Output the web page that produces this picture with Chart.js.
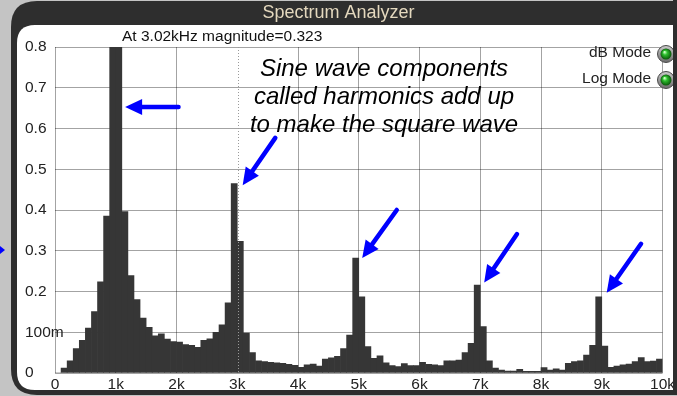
<!DOCTYPE html>
<html>
<head>
<meta charset="utf-8">
<title>Spectrum Analyzer</title>
<script src="https://cdn.jsdelivr.net/npm/chart.js@4.4.1/dist/chart.umd.min.js"></script>
<style>
  html, body { margin: 0; padding: 0; background: #c4c4c4; }
  canvas { display: block; }
</style>
</head>
<body>
<canvas id="spectrum" width="677" height="396"></canvas>
<script>
// 1. Data: 100 Hz bins from 0 to 10 kHz (bin centres)
const binCentersHz = [
  50, 150, 250, 350, 450, 550, 650, 750, 850, 950,
  1050, 1150, 1250, 1350, 1450, 1550, 1650, 1750, 1850, 1950,
  2050, 2150, 2250, 2350, 2450, 2550, 2650, 2750, 2850, 2950,
  3050, 3150, 3250, 3350, 3450, 3550, 3650, 3750, 3850, 3950,
  4050, 4150, 4250, 4350, 4450, 4550, 4650, 4750, 4850, 4950,
  5050, 5150, 5250, 5350, 5450, 5550, 5650, 5750, 5850, 5950,
  6050, 6150, 6250, 6350, 6450, 6550, 6650, 6750, 6850, 6950,
  7050, 7150, 7250, 7350, 7450, 7550, 7650, 7750, 7850, 7950,
  8050, 8150, 8250, 8350, 8450, 8550, 8650, 8750, 8850, 8950,
  9050, 9150, 9250, 9350, 9450, 9550, 9650, 9750, 9850, 9950,
];

const magnitude = [
  0, 0.012, 0.03, 0.06, 0.08, 0.11, 0.151, 0.224, 0.385, 0.95,
  0.95, 0.396, 0.239, 0.18, 0.135, 0.112, 0.091, 0.096, 0.083, 0.077,
  0.076, 0.07, 0.068, 0.063, 0.08, 0.084, 0.1, 0.118, 0.172, 0.465,
  0.323, 0.098, 0.05, 0.03, 0.028, 0.026, 0.025, 0.024, 0.021, 0.019,
  0.014, 0.02, 0.022, 0.017, 0.034, 0.037, 0.041, 0.06, 0.093, 0.282,
  0.187, 0.065, 0.036, 0.042, 0.025, 0.018, 0.016, 0.023, 0.018, 0.018,
  0.026, 0.021, 0.02, 0.018, 0.03, 0.03, 0.032, 0.05, 0.073, 0.216,
  0.114, 0.03, 0.012, 0.007, 0.005, 0.005, 0.009, 0.004, 0.004, 0.004,
  0.013, 0.007, 0.01, 0.007, 0.024, 0.028, 0.03, 0.044, 0.068, 0.187,
  0.066, 0.014, 0.017, 0.02, 0.022, 0.028, 0.038, 0.028, 0.029, 0.034,
];

const xTickLabels = ["0", "1k", "2k", "3k", "4k", "5k", "6k", "7k", "8k", "9k", "10k"];
const yTickLabels = ["0", "100m", "0.2", "0.3", "0.4", "0.5", "0.6", "0.7", "0.8"];

// cursor readout
const cursorHz = 3020;
const cursorText = "At 3.02kHz magnitude=0.323";

// annotation text + arrows (in data units: Hz, magnitude)
const noteLines = ["Sine wave components", "called harmonics add up", "to make the square wave"];
const arrows = [
  { tail: [2033, 0.653], tip: [1154, 0.653] },
  { tail: [3626, 0.577], tip: [3089, 0.461] },
  { tail: [5626, 0.4], tip: [5057, 0.282] },
  { tail: [7605, 0.341], tip: [7065, 0.222] },
  { tail: [9647, 0.317], tip: [9081, 0.197] },
];
const modeButtons = ["dB Mode", "Log Mode"];

// 2. Styles
const FONT = "'Liberation Sans', Arial, sans-serif";
const gridColor = "rgba(0,0,0,0.36)";
const frameColor = "#2e2e2e";

function roundRect(ctx, x, y, w, h, r) {
  ctx.beginPath();
  ctx.moveTo(x + r, y);
  ctx.lineTo(x + w - r, y);
  ctx.quadraticCurveTo(x + w, y, x + w, y + r);
  ctx.lineTo(x + w, y + h - r);
  ctx.quadraticCurveTo(x + w, y + h, x + w - r, y + h);
  ctx.lineTo(x + r, y + h);
  ctx.quadraticCurveTo(x, y + h, x, y + h - r);
  ctx.lineTo(x, y + r);
  ctx.quadraticCurveTo(x, y, x + r, y);
  ctx.closePath();
}

function drawArrow(ctx, x1, y1, x2, y2) {
  const ang = Math.atan2(y2 - y1, x2 - x1);
  const headLen = 17, headHalf = 8;
  const bx = x2 - Math.cos(ang) * headLen;
  const by = y2 - Math.sin(ang) * headLen;
  ctx.strokeStyle = "#0000ff";
  ctx.fillStyle = "#0000ff";
  ctx.lineWidth = 4.5;
  ctx.lineCap = "round";
  ctx.beginPath();
  ctx.moveTo(x1, y1);
  ctx.lineTo(bx + Math.cos(ang) * 2, by + Math.sin(ang) * 2);
  ctx.stroke();
  ctx.beginPath();
  ctx.moveTo(x2, y2);
  ctx.lineTo(bx + Math.sin(ang) * headHalf, by - Math.cos(ang) * headHalf);
  ctx.lineTo(bx - Math.sin(ang) * headHalf, by + Math.cos(ang) * headHalf);
  ctx.closePath();
  ctx.fill();
}

// green "on" lamp next to the mode labels
function drawLed(ctx, x, y) {
  const ring = ctx.createLinearGradient(x, y - 8, x, y + 8);
  ring.addColorStop(0, "#c8c8c8");
  ring.addColorStop(1, "#6e6e6e");
  ctx.beginPath();
  ctx.arc(x, y, 8.5, 0, Math.PI * 2);
  ctx.fillStyle = ring;
  ctx.fill();
  ctx.lineWidth = 1;
  ctx.strokeStyle = "#4a4a4a";
  ctx.stroke();
  const g = ctx.createRadialGradient(x - 1.5, y - 2, 0.5, x, y, 5.5);
  g.addColorStop(0, "#c8ffc0");
  g.addColorStop(0.35, "#2ec02e");
  g.addColorStop(1, "#0a560a");
  ctx.beginPath();
  ctx.arc(x, y, 5.5, 0, Math.PI * 2);
  ctx.fillStyle = g;
  ctx.fill();
}

// 3. Panel frame behind the chart, annotations on top
const panelPlugin = {
  id: "panel",
  beforeDraw(chart) {
    const ctx = chart.ctx;
    ctx.save();
    ctx.fillStyle = "#c4c4c4";
    ctx.fillRect(0, 0, chart.width, chart.height);
    ctx.fillStyle = frameColor;
    roundRect(ctx, 11, 1, 720, 394, 26);
    ctx.fill();
    ctx.fillStyle = "#ffffff";
    roundRect(ctx, 17, 25, 680, 365, 18);
    ctx.fill();
    ctx.fillStyle = "#e4d8be";
    ctx.font = "18px " + FONT;
    ctx.textAlign = "center";
    ctx.textBaseline = "middle";
    ctx.fillText("Spectrum Analyzer", 338.5, 13);
    ctx.restore();
  },
  afterDraw(chart) {
    const ctx = chart.ctx;
    const xs = chart.scales.x, ys = chart.scales.y;
    const area = chart.chartArea;
    ctx.save();

    // dotted cursor line
    const cx = Math.round(xs.getPixelForValue(cursorHz)) + 0.5;
    ctx.strokeStyle = "#9a9a9a";
    ctx.lineWidth = 1;
    ctx.setLineDash([1, 2]);
    ctx.beginPath();
    ctx.moveTo(cx, area.top);
    ctx.lineTo(cx, area.bottom);
    ctx.stroke();
    ctx.setLineDash([]);

    // cursor readout
    ctx.fillStyle = "#111";
    ctx.font = "15.5px " + FONT;
    ctx.textAlign = "left";
    ctx.textBaseline = "middle";
    ctx.fillText(cursorText, 122, 37);

    // mode buttons
    ctx.textAlign = "right";
    modeButtons.forEach((label, i) => {
      const y = 53 + i * 26;
      ctx.fillStyle = "#222";
      ctx.fillText(label, 651, y);
      drawLed(ctx, 666, y + 1);
    });

    // note text
    ctx.fillStyle = "#000";
    ctx.font = "italic 24px " + FONT;
    ctx.textAlign = "center";
    ctx.textBaseline = "alphabetic";
    noteLines.forEach((line, i) => ctx.fillText(line, 384, 76 + i * 28));

    // arrows
    arrows.forEach((a) => {
      drawArrow(ctx,
        xs.getPixelForValue(a.tail[0]), ys.getPixelForValue(a.tail[1]),
        xs.getPixelForValue(a.tip[0]), ys.getPixelForValue(a.tip[1]));
    });

    // small arrow stub at the left edge
    ctx.fillStyle = "#0000ff";
    ctx.beginPath();
    ctx.moveTo(0, 246);
    ctx.lineTo(5, 250);
    ctx.lineTo(0, 254);
    ctx.closePath();
    ctx.fill();

    // right bezel covers the last label
    ctx.fillStyle = frameColor;
    ctx.fillRect(673, 0, 4, 395);
    ctx.restore();
  },
};

// 4. Chart
const ctx = document.getElementById("spectrum").getContext("2d");
const spectrumChart = new Chart(ctx, {
  type: "bar",
  data: {
    datasets: [
      {
        data: binCentersHz.map((f, i) => ({ x: f, y: magnitude[i] })),
        backgroundColor: "#363636",
        borderWidth: 0,
        barPercentage: 1,
        categoryPercentage: 1,
      },
    ],
  },
  options: {
    responsive: false,
    animation: false,
    devicePixelRatio: 1,
    layout: { padding: { left: 0, top: 47, right: 7, bottom: 0 } },
    plugins: {
      legend: { display: false },
      tooltip: { enabled: false },
    },
    scales: {
      x: {
        type: "linear",
        min: 0,
        max: 10000,
        offset: false,
        z: 1,
        afterFit: (s) => { s.height = 23; },
        ticks: {
          stepSize: 1000,
          autoSkip: false,
          maxRotation: 0,
          padding: 2,
          color: "#222",
          font: { family: FONT, size: 15.5 },
          callback: (v) => xTickLabels[Math.round(v / 1000)],
        },
        grid: {
          offset: false,
          drawTicks: false,
          color: (c) => (c.tick && Math.abs(c.tick.value - cursorHz) < 100 ? "rgba(0,0,0,0)" : gridColor),
        },
        border: { display: false },
      },
      y: {
        min: 0,
        max: 0.8,
        z: 1,
        afterFit: (s) => { s.width = 55; },
        ticks: {
          stepSize: 0.1,
          mirror: true,
          padding: -30,
          color: "#222",
          font: { family: FONT, size: 15.5 },
          callback: (v) => yTickLabels[Math.round(v * 10)],
        },
        grid: { drawTicks: false, color: gridColor },
        border: { display: false },
      },
    },
  },
  plugins: [panelPlugin],
});
</script>
</body>
</html>
